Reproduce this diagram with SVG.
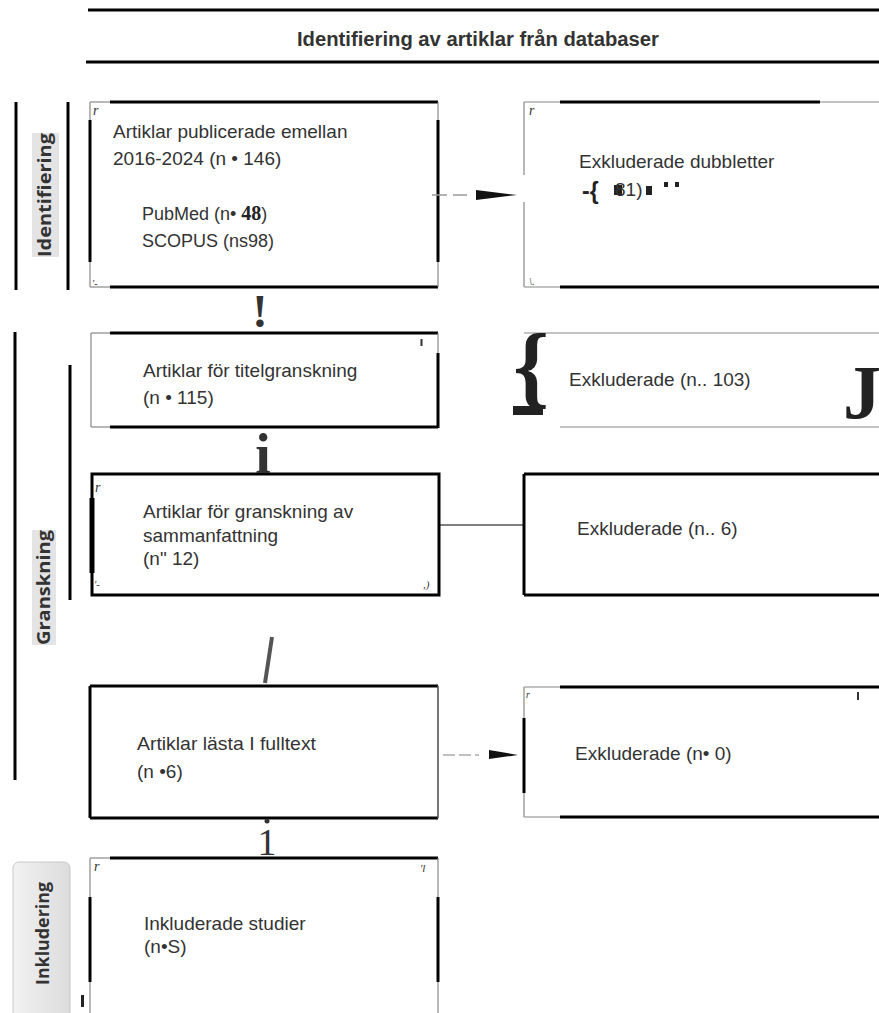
<svg xmlns="http://www.w3.org/2000/svg" width="879" height="1013" viewBox="0 0 879 1013">
<defs>
<linearGradient id="lblgrad" x1="0" y1="0" x2="1" y2="0">
<stop offset="0" stop-color="#f2f2f2"/>
<stop offset="1" stop-color="#dcdcdc"/>
</linearGradient>
<style>
.t{font-family:"Liberation Sans",Arial,sans-serif;font-size:19px;fill:#333}
.lbl{font-family:"Open Sans","Liberation Sans",sans-serif;font-weight:700;font-size:17px;fill:#333}
.ser{font-family:"Liberation Serif","Times New Roman",serif;fill:#333}
.art{font-family:"Liberation Serif","Times New Roman",serif;font-style:italic;font-size:14px;fill:#333}
.thick{stroke:#000;stroke-width:3;fill:none}
.thin{stroke:#888;stroke-width:1.2;fill:none}
.rule{stroke:#000;stroke-width:3}
.bg{fill:#e4e4e4}
</style>
</defs>
<rect width="879" height="1013" fill="#fff"/>

<g id="header">
<line class="rule" x1="88" y1="10" x2="879" y2="10"/>
<line class="rule" x1="86" y1="62" x2="879" y2="62"/>
<text x="478" y="46" text-anchor="middle" font-family="Liberation Sans,Arial,sans-serif" font-weight="700" font-size="20" fill="#333" textLength="362" lengthAdjust="spacingAndGlyphs">Identifiering av artiklar från databaser</text>
</g>

<g id="phase-identifiering">
<line class="rule" x1="16" y1="102" x2="16" y2="290"/>
<line class="rule" x1="68" y1="102" x2="68" y2="290"/>
<rect class="bg" x="32" y="133" width="27" height="124"/>
<text class="lbl" transform="translate(51,195) rotate(-90)" text-anchor="middle" textLength="124" lengthAdjust="spacingAndGlyphs">Identifiering</text>
</g>

<g id="phase-granskning">
<line class="rule" x1="15" y1="332" x2="15" y2="780"/>
<line class="rule" x1="70" y1="365" x2="70" y2="600"/>
<rect class="bg" x="32" y="530" width="24" height="115"/>
<text class="lbl" transform="translate(50,587.5) rotate(-90)" text-anchor="middle" textLength="115" lengthAdjust="spacingAndGlyphs">Granskning</text>
</g>

<g id="phase-inkludering">
<rect x="13" y="862" width="57" height="170" rx="6" fill="url(#lblgrad)" stroke="#c8c8c8" stroke-width="1"/>
<text class="lbl" transform="translate(49,933.5) rotate(-90)" text-anchor="middle" textLength="103" lengthAdjust="spacingAndGlyphs">Inkludering</text>
<rect x="81" y="995" width="3" height="12" fill="#222"/>
</g>

<g id="node-artiklar-publicerade">
<line class="thin" x1="90" y1="102" x2="110" y2="102"/>
<line class="thick" x1="110" y1="102" x2="438" y2="102"/>
<line class="thin" x1="90" y1="287" x2="110" y2="287"/>
<line class="thick" x1="110" y1="287" x2="438" y2="287"/>
<line class="thin" x1="90" y1="102" x2="90" y2="287"/>
<line class="thick" x1="90" y1="120" x2="90" y2="262"/>
<line class="thin" x1="438" y1="102" x2="438" y2="287"/>
<line class="thick" x1="438" y1="120" x2="438" y2="262"/>
<text class="art" x="93" y="115">r</text>
<text class="art" x="92" y="287" style="font-size:10px">'-</text>
<text class="t" x="113" y="138">Artiklar publicerade  emellan</text>
<text class="t" x="113" y="165">2016-2024 (n • 146)</text>
<text class="t" x="142" y="220" style="font-size:18px">PubMed (n•  <tspan style="font-family:'Liberation Serif',serif;font-weight:700;font-size:20px;fill:#222">48</tspan>)</text>
<text class="t" x="142" y="247" style="font-size:18px">SCOPUS (ns98)</text>
</g>

<g id="node-exkluderade-dubbletter">
<line class="thin" x1="524" y1="102" x2="560" y2="102"/>
<line class="thick" x1="560" y1="102" x2="820" y2="102"/>
<line class="thin" x1="820" y1="102" x2="879" y2="102"/>
<line class="thin" x1="524" y1="287" x2="560" y2="287"/>
<line class="thick" x1="560" y1="287" x2="879" y2="287"/>
<line class="thin" x1="524" y1="102" x2="524" y2="175"/>
<line class="thin" x1="524" y1="202" x2="524" y2="287"/>
<text class="art" x="529" y="115">r</text>
<text class="art" x="529" y="285" style="font-size:11px">\.</text>
<text class="t" x="579" y="168">Exkluderade dubbletter</text>
<text class="t" x="582" y="199" style="font-size:23px;font-weight:700;fill:#222">-{</text>
<rect x="614" y="185" width="8" height="10" fill="#222"/>
<text class="t" x="615" y="196">81)</text>
<rect x="646" y="186" width="6" height="9" fill="#222"/>
<rect x="664" y="182" width="4" height="5" fill="#222"/>
<rect x="675" y="182" width="4" height="5" fill="#222"/>
</g>

<g id="node-titelgranskning">
<line class="thin" x1="91" y1="333" x2="110" y2="333"/>
<line class="thick" x1="110" y1="333" x2="438" y2="333"/>
<line class="thin" x1="91" y1="427" x2="110" y2="427"/>
<line class="thick" x1="110" y1="427" x2="438" y2="427"/>
<line class="thin" x1="91" y1="333" x2="91" y2="427"/>
<line class="thin" x1="438" y1="333" x2="438" y2="353"/>
<line class="thick" x1="438" y1="353" x2="438" y2="428"/>
<rect x="420.5" y="339" width="2" height="7" fill="#333"/>
<text class="t" x="143" y="377">Artiklar för titelgranskning</text>
<text class="t" x="143" y="404">(n • 115)</text>
</g>

<g id="node-exkluderade-103">
<line class="thin" x1="524" y1="333" x2="879" y2="333"/>
<line class="thin" x1="560" y1="427" x2="879" y2="427"/>
<text class="ser" x="513" y="396" style="font-size:92px;font-weight:700;fill:#222">{</text>
<rect x="513" y="406" width="30" height="9" fill="#222"/>
<text class="ser" x="843" y="418" style="font-size:76px;font-weight:700;fill:#222">J</text>
<text class="t" x="569" y="386">Exkluderade (n.. 103)</text>
</g>

<g id="node-sammanfattning">
<rect class="thick" x="92" y="474" width="347" height="121"/>
<line stroke="#000" stroke-width="5" x1="92" y1="498" x2="92" y2="573"/>
<text class="art" x="95" y="492">r</text>
<text class="art" x="94" y="588" style="font-size:11px">'-</text>
<text class="art" x="423" y="588" style="font-size:11px">,)</text>
<text class="t" x="143" y="518">Artiklar för granskning av</text>
<text class="t" x="143" y="542">sammanfattning</text>
<text class="t" x="143" y="565">(n"  12)</text>
</g>

<g id="node-exkluderade-6">
<line class="thick" x1="879" y1="474" x2="524" y2="474"/>
<line class="thick" x1="524" y1="474" x2="524" y2="595"/>
<line class="thick" x1="524" y1="595" x2="879" y2="595"/>
<text class="t" x="577" y="535">Exkluderade (n.. 6)</text>
</g>

<g id="node-fulltext">
<line class="thick" x1="90" y1="686" x2="438" y2="686"/>
<line class="thick" x1="90" y1="686" x2="90" y2="818"/>
<line class="thick" x1="90" y1="818" x2="438" y2="818"/>
<line stroke="#555" stroke-width="1.6" x1="438" y1="686" x2="438" y2="818"/>
<text class="t" x="137" y="750" textLength="179" lengthAdjust="spacingAndGlyphs">Artiklar lästa I fulltext</text>
<text class="t" x="137" y="778">(n •6)</text>
</g>

<g id="node-exkluderade-0">
<line class="thin" x1="524" y1="687" x2="560" y2="687"/>
<line class="thick" x1="560" y1="687" x2="879" y2="687"/>
<line class="thin" x1="524" y1="817" x2="560" y2="817"/>
<line class="thick" x1="560" y1="817" x2="879" y2="817"/>
<line class="thin" x1="524" y1="687" x2="524" y2="817"/>
<line class="thick" x1="524" y1="718" x2="524" y2="793"/>
<text class="art" x="526" y="698" style="font-size:10px">r</text>
<rect x="857" y="692" width="2" height="8" fill="#333"/>
<text class="t" x="575" y="760">Exkluderade (n•  0)</text>
</g>

<g id="node-inkluderade">
<line class="thin" x1="90" y1="858" x2="110" y2="858"/>
<line class="thick" x1="110" y1="858" x2="438" y2="858"/>
<line class="thin" x1="90" y1="858" x2="90" y2="1013"/>
<line class="thick" x1="90" y1="897" x2="90" y2="982"/>
<line class="thin" x1="438" y1="858" x2="438" y2="1013"/>
<line class="thick" x1="438" y1="897" x2="438" y2="982"/>
<text class="art" x="94" y="871">r</text>
<text class="art" x="420" y="872" style="font-size:11px">'l</text>
<text class="t" x="144" y="930">Inkluderade studier</text>
<text class="t" x="144" y="953">(n•S)</text>
</g>

<g id="connectors">
<line x1="432" y1="195" x2="467" y2="195" stroke="#999" stroke-width="1.6" stroke-dasharray="15 6"/>
<polygon points="476,190 517,195 476,200" fill="#111"/>
<text class="ser" x="260" y="327" text-anchor="middle" style="font-size:46px;font-weight:700">!</text>
<text class="ser" x="263" y="473" text-anchor="middle" style="font-size:56px;font-weight:700">i</text>
<line x1="439" y1="525" x2="524" y2="525" stroke="#000" stroke-width="1.2"/>
<line x1="272" y1="637" x2="265" y2="683" stroke="#555" stroke-width="4"/>
<line x1="443" y1="755" x2="479" y2="755" stroke="#aaa" stroke-width="1.6" stroke-dasharray="12 4"/>
<polygon points="489,750 518,755 489,759" fill="#111"/>
<circle cx="267" cy="821" r="2.5" fill="#333"/>
<text class="ser" x="267" y="855" text-anchor="middle" style="font-size:38px">1</text>
</g>
</svg>
